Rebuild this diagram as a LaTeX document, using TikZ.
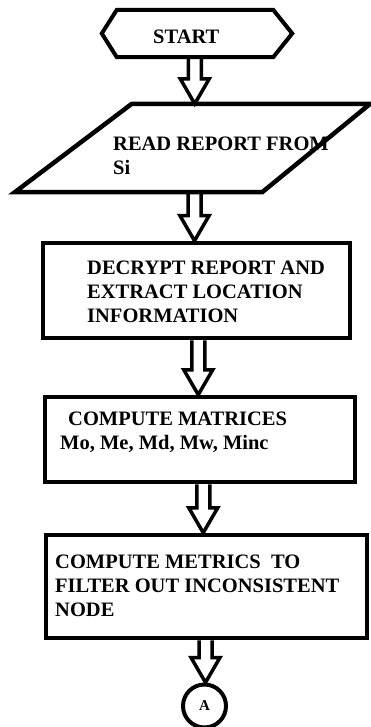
\documentclass[tikz,border=0pt]{standalone}
\usepackage{fontspec}
\setmainfont{Liberation Serif}
\usetikzlibrary{positioning,calc}

\tikzset{
  frame/.style={draw, line width=4.5pt},
  holder/.style={inner sep=0pt, minimum width=#1},
  boxtext/.style={font=\bfseries\fontsize{20.5}{24}\selectfont, align=left, inner sep=0pt, anchor=west},
  blockarrow/.style={draw, line width=3.5pt, to path={
    let \p1=(\tikztostart), \p2=(\tikztotarget),
        \p3=($(\tikztostart)!.5!(\tikztotarget)$) in
    (\x3-6.5pt,\y1) -- (\x3-6.5pt,\y2+25pt) -- (\x3-14.5pt,\y2+25pt) -- (\x3,\y2)
    -- (\x3+14.5pt,\y2+25pt) -- (\x3+6.5pt,\y2+25pt) -- (\x3+6.5pt,\y1)}}
}

\begin{document}
\begin{tikzpicture}[x=1pt,y=-1pt]
  \useasboundingbox[fill=white] (0,0) rectangle (371,727);

  % shapes
  \node[holder=190pt, minimum height=47pt] (start) at (197,33.5) {};
  \draw[frame, line width=4pt] (start.west) -- ([xshift=15pt]start.north west)
    -- ([xshift=-19pt]start.north east) -- (start.east)
    -- ([xshift=-19pt]start.south east) -- ([xshift=15pt]start.south west) -- cycle;
  \node[holder=355pt, minimum height=88pt] (read) at (192.5,148) {};
  \draw[frame] (read.south west) -- ([xshift=117pt]read.north west)
    -- (read.north east) -- ([xshift=-108pt]read.south east) -- cycle;
  \node[frame, minimum width=307pt, minimum height=95pt] (decrypt) at (196.5,290.5) {};
  \node[frame, minimum width=310pt, minimum height=85pt] (matrices) at (200,439.5) {};
  \node[frame, minimum width=321pt, minimum height=103pt] (metrics) at (206.5,586.5) {};
  \node[frame, line width=4pt, circle, minimum size=43pt,
        font=\bfseries\fontsize{15}{18}\selectfont] (conn) at (204.5,706) {A};

  % texts
  \node[boxtext] (starttxt) at (153,37) {START};
  \node[boxtext] (readtxt) at (113,155.5) {READ REPORT FROM\\Si};
  \node[boxtext] (decrypttxt) at (87,291.5) {DECRYPT REPORT AND\\EXTRACT LOCATION\\INFORMATION};
  \node[boxtext] (matricestxt) at (60,432.5) {\hspace*{8pt}COMPUTE MATRICES\\Mo, Me, Md, Mw, Minc};
  \node[boxtext] (metricstxt) at (55,586) {COMPUTE METRICS\ \ TO\\FILTER OUT INCONSISTENT\\NODE};

  % connectors
  \draw[blockarrow] (start.south) to (read.north);
  \draw[blockarrow] (read.south) to (decrypt.north);
  \draw[blockarrow] (decrypt.south) to (matrices.north);
  \draw[blockarrow] (matrices.south) to (metrics.north);
  \draw[blockarrow] (metrics.south) to (conn.north);
\end{tikzpicture}
\end{document}
